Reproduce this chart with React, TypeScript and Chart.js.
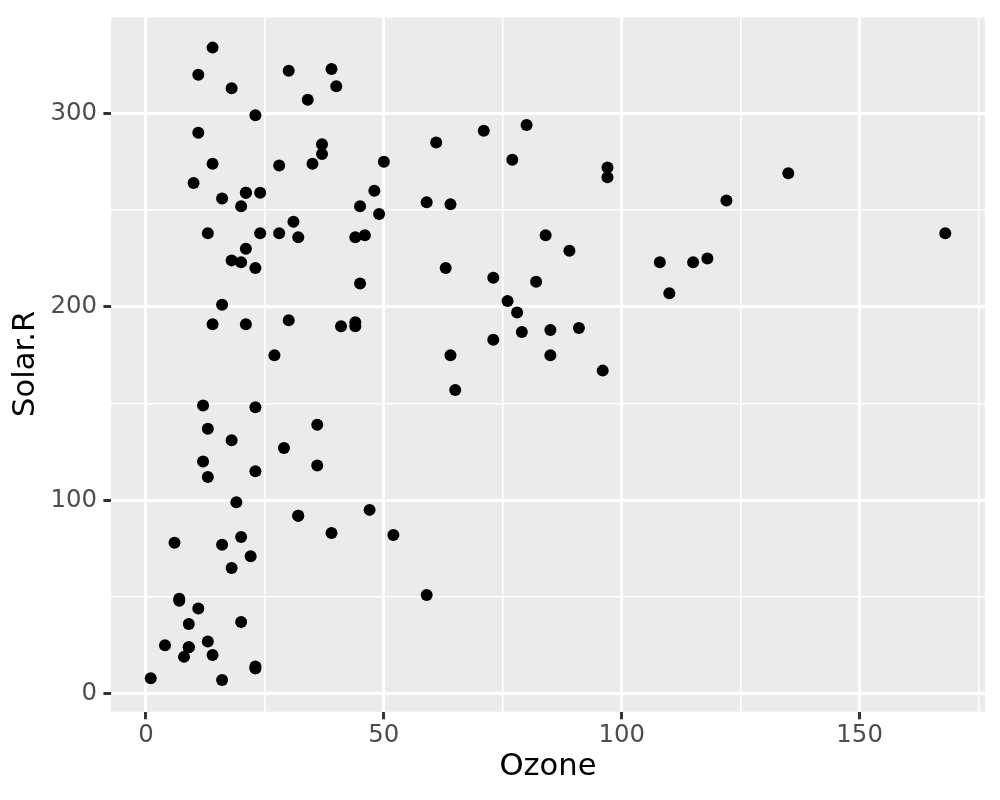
import React, { useEffect, useRef } from "react";
import { Chart, registerables } from "chart.js";

Chart.register(...registerables);

// airquality (complete cases): Ozone vs Solar.R
const ozone = [
  41, 36, 12, 18, 23, 19, 8, 16, 11, 14, 18, 14, 34, 6, 30, 11, 1, 11, 4, 32,
  23, 45, 115, 37, 29, 71, 39, 23, 21, 37, 20, 12, 13, 135, 49, 32, 64, 40, 77, 97,
  97, 85, 10, 27, 7, 48, 35, 61, 79, 63, 16, 80, 108, 20, 52, 82, 50, 64, 59, 39,
  9, 16, 122, 89, 110, 44, 28, 65, 22, 59, 23, 31, 44, 21, 9, 45, 168, 73, 76, 118,
  84, 85, 96, 78, 73, 91, 47, 32, 20, 23, 21, 24, 44, 21, 28, 9, 13, 46, 18, 13,
  24, 16, 13, 23, 36, 7, 14, 30, 14, 18, 20,
];
const solarR = [
  190, 118, 149, 313, 299, 99, 19, 256, 290, 274, 65, 334, 307, 78, 322, 44, 8, 320, 25, 92,
  13, 252, 223, 279, 127, 291, 323, 148, 191, 284, 37, 120, 137, 269, 248, 236, 175, 314, 276, 267,
  272, 175, 264, 175, 48, 260, 274, 285, 187, 220, 7, 294, 223, 81, 82, 213, 275, 253, 254, 83,
  24, 77, 255, 229, 207, 192, 273, 157, 71, 51, 115, 244, 190, 259, 36, 212, 238, 215, 203, 225,
  237, 188, 167, 197, 183, 189, 95, 92, 252, 220, 230, 259, 236, 259, 238, 24, 112, 237, 224, 27,
  238, 201, 238, 14, 139, 49, 20, 193, 191, 131, 223,
];
const xMajorTicks = [0, 50, 100, 150];
const yMajorTicks = [0, 100, 200, 300];
const xTitle = "Ozone";
const yTitle = "Solar.R";

const FONT = "'DejaVu Sans', sans-serif";

function expanded(values: number[]) {
  const lo = Math.min(...values);
  const hi = Math.max(...values);
  const pad = (hi - lo) * 0.05;
  return [lo - pad, hi + pad];
}

const panelBg = {
  id: "panelBg",
  beforeDraw(chart: any) {
    const { ctx, chartArea: a } = chart;
    ctx.save();
    ctx.fillStyle = "#EBEBEB";
    ctx.fillRect(a.left, a.top, a.right - a.left, a.bottom - a.top);
    ctx.restore();
  },
};

export default function App() {
  const ref = useRef<HTMLCanvasElement | null>(null);

  useEffect(() => {
    document.body.style.margin = "0";
    if (!ref.current) return;
    const [xLo, xHi] = expanded(ozone);
    const [yLo, yHi] = expanded(solarR);
    const points = ozone.map((x, i) => ({ x, y: solarR[i] }));

    const isMajorX = (v: number) => xMajorTicks.includes(v);
    const isMajorY = (v: number) => yMajorTicks.includes(v);

    const chart = new Chart(ref.current, {
      type: "scatter",
      data: {
        datasets: [
          {
            data: points,
            backgroundColor: "#000000",
            borderWidth: 0,
            pointRadius: 6,
            pointHoverRadius: 6,
          },
        ],
      },
      plugins: [panelBg],
      options: {
        responsive: false,
        animation: false,
        devicePixelRatio: 1,
        layout: { padding: { top: 16, right: 15, left: 0, bottom: 0 } },
        plugins: { legend: { display: false }, tooltip: { enabled: false } },
        scales: {
          x: {
            type: "linear",
            position: "bottom",
            min: xLo,
            max: xHi,
            border: { display: false },
            ticks: {
              stepSize: 25,
              includeBounds: false,
              autoSkip: false,
              maxRotation: 0,
              color: "#4D4D4D",
              padding: 2,
              font: { family: FONT, size: 24.4, lineHeight: 1.2 },
              callback: (v: any) => (isMajorX(Number(v)) ? String(v) : ""),
            },
            grid: {
              color: "#FFFFFF",
              lineWidth: (c: any) => (c.tick && isMajorX(c.tick.value) ? 3 : 1.5),
              tickLength: 7.6,
              tickWidth: 3,
              tickColor: (c: any) =>
                c.tick && isMajorX(c.tick.value) ? "#333333" : "rgba(0,0,0,0)",
            },
            title: {
              display: true,
              text: xTitle,
              color: "#000000",
              font: { family: FONT, size: 30.6, lineHeight: 1.2 },
              padding: { top: 0, bottom: 14.6 },
            },
            afterFit: (axis: any) => {
              axis.height = 88.3;
              axis.paddingLeft = 0;
              axis.paddingRight = 0;
              axis.paddingTop = 0;
              axis.paddingBottom = 0;
            },
          },
          y: {
            type: "linear",
            position: "left",
            min: yLo,
            max: yHi,
            border: { display: false },
            ticks: {
              stepSize: 50,
              includeBounds: false,
              autoSkip: false,
              color: "#4D4D4D",
              padding: 6.4,
              font: { family: FONT, size: 24.4, lineHeight: 1.2 },
              callback: (v: any) => (isMajorY(Number(v)) ? String(v) : ""),
            },
            grid: {
              color: "#FFFFFF",
              lineWidth: (c: any) => (c.tick && isMajorY(c.tick.value) ? 3 : 1.5),
              tickLength: 7.6,
              tickWidth: 3,
              tickColor: (c: any) =>
                c.tick && isMajorY(c.tick.value) ? "#333333" : "rgba(0,0,0,0)",
            },
            title: {
              display: true,
              text: yTitle,
              color: "#000000",
              font: { family: FONT, size: 30.6, lineHeight: 1.2 },
              padding: { top: 7.7, bottom: 0 },
            },
            afterFit: (axis: any) => {
              axis.width = 111;
              axis.paddingLeft = 0;
              axis.paddingRight = 0;
              axis.paddingTop = 0;
              axis.paddingBottom = 0;
            },
          },
        },
      },
    } as any);
    return () => chart.destroy();
  }, []);

  return (
    <div style={{ width: 1000, height: 800 }}>
      <canvas ref={ref} width={1000} height={800} style={{ display: "block" }} />
    </div>
  );
}
